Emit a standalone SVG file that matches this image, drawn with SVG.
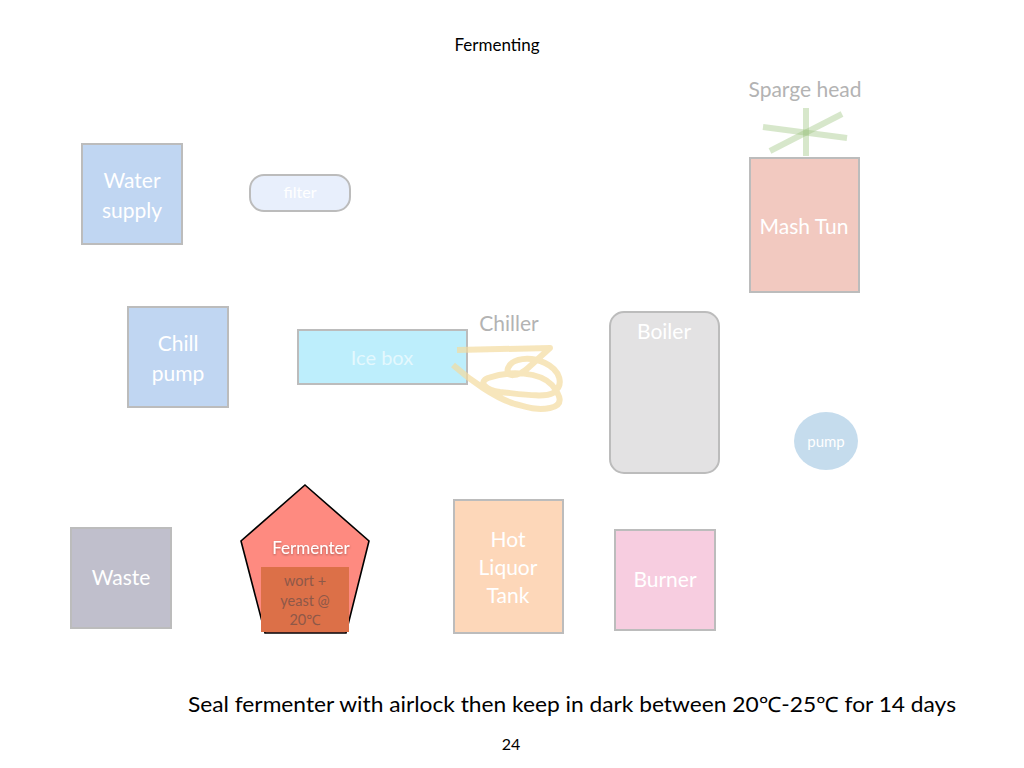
<svg xmlns="http://www.w3.org/2000/svg" width="1024" height="768" viewBox="0 0 1024 768">
<style>
text{font-family:Lato,"Open Sans","Noto Sans",sans-serif;text-anchor:middle}
.box{stroke:#bcbcbc;stroke-width:2}
.wl{fill:#fff;font-size:21px}
.gl{fill:#b3b3b3;font-size:21px}
</style>
<defs>
<filter id="sh" x="-20%" y="-30%" width="140%" height="160%"><feDropShadow dx="0" dy="1" stdDeviation="1" flood-color="#000" flood-opacity="0.35"/></filter>
</defs>
<rect width="1024" height="768" fill="#fff"/>
<text x="497" y="51" font-size="17" fill="#000">Fermenting</text>

<g id="sparge-head">
<text class="gl" x="805" y="97">Sparge head</text>
<g stroke="#9cc47e" stroke-width="6" stroke-opacity="0.4" stroke-linecap="butt">
<line x1="806" y1="108" x2="806" y2="156"/>
<line x1="763" y1="127" x2="847" y2="138"/>
<line x1="770" y1="151" x2="842" y2="114"/>
</g>
</g>

<g id="mash-tun">
<rect class="box" x="750" y="158" width="109" height="134" fill="#f2c9c0"/>
<text class="wl" x="804" y="234">Mash Tun</text>
</g>

<g id="water-supply">
<rect class="box" x="82" y="144" width="100" height="100" fill="#c0d6f2"/>
<text class="wl" x="132" y="188">Water</text>
<text class="wl" x="132" y="218">supply</text>
</g>

<g id="filter">
<rect class="box" x="250" y="175" width="100" height="36" rx="14" fill="#e8effc"/>
<text x="300" y="198" font-size="16" fill="#fff">filter</text>
</g>

<g id="chill-pump">
<rect class="box" x="128" y="307" width="100" height="100" fill="#c0d6f2"/>
<text class="wl" x="178" y="351">Chill</text>
<text class="wl" x="178" y="381">pump</text>
</g>

<g id="ice-box">
<rect class="box" x="298" y="330" width="169" height="54" fill="#bdeefc"/>
<text x="382" y="365" font-size="20" fill="#fff" fill-opacity="0.6">Ice box</text>
</g>

<g id="chiller">
<text class="gl" x="509" y="331">Chiller</text>
<path d="M457,350 L550,348 L528,368 C518,377 505,378 508,368 C512,358 530,356 545,363 C560,370 565,385 553,393 C545,398 520,394 500,392 C485,390 478,382 488,378 C510,370 540,372 552,385 C560,395 565,405 550,408 C535,411 525,406 515,404 C495,398 470,380 453,365" fill="none" stroke="#f3dc9f" stroke-width="6" stroke-opacity="0.7" stroke-linecap="butt" stroke-linejoin="round"/>
</g>

<g id="boiler">
<rect class="box" x="610" y="312" width="109" height="161" rx="14" fill="#e3e2e3"/>
<text class="wl" x="664" y="339">Boiler</text>
</g>

<g id="pump">
<ellipse cx="826" cy="441" rx="32" ry="29" fill="#c5dced"/>
<text x="826" y="447" font-size="15" fill="#fff">pump</text>
</g>

<g id="waste">
<rect class="box" x="71" y="528" width="100" height="100" fill="#c0bfcc"/>
<text class="wl" x="121" y="585">Waste</text>
</g>

<g id="fermenter">
<polygon points="305,485 369,541 346,633 265,633 241,541" fill="#fe8a80" stroke="#000" stroke-width="1.6"/>
<rect x="261" y="567" width="88" height="65" fill="#dc7048"/>
<text x="311" y="554" font-size="17" fill="#fff" filter="url(#sh)">Fermenter</text>
<text x="305" y="586" font-size="14.5" fill="#8e5848">wort +</text>
<text x="305" y="606" font-size="14.5" fill="#8e5848">yeast @</text>
<text x="305" y="625" font-size="14.5" fill="#8e5848">20℃</text>
</g>

<g id="hot-liquor-tank">
<rect class="box" x="454" y="500" width="109" height="133" fill="#fdd7b9"/>
<text class="wl" x="508" y="547">Hot</text>
<text class="wl" x="508" y="575">Liquor</text>
<text class="wl" x="508" y="603">Tank</text>
</g>

<g id="burner">
<rect class="box" x="615" y="530" width="100" height="100" fill="#f7cde0"/>
<text class="wl" x="665" y="587">Burner</text>
</g>

<g id="connectors"></g>

<text x="572" y="712" font-size="21" fill="#000" textLength="768" lengthAdjust="spacingAndGlyphs">Seal fermenter with airlock then keep in dark between 20℃-25℃ for 14 days</text>
<text x="511" y="750" font-size="16" fill="#000">24</text>
</svg>
